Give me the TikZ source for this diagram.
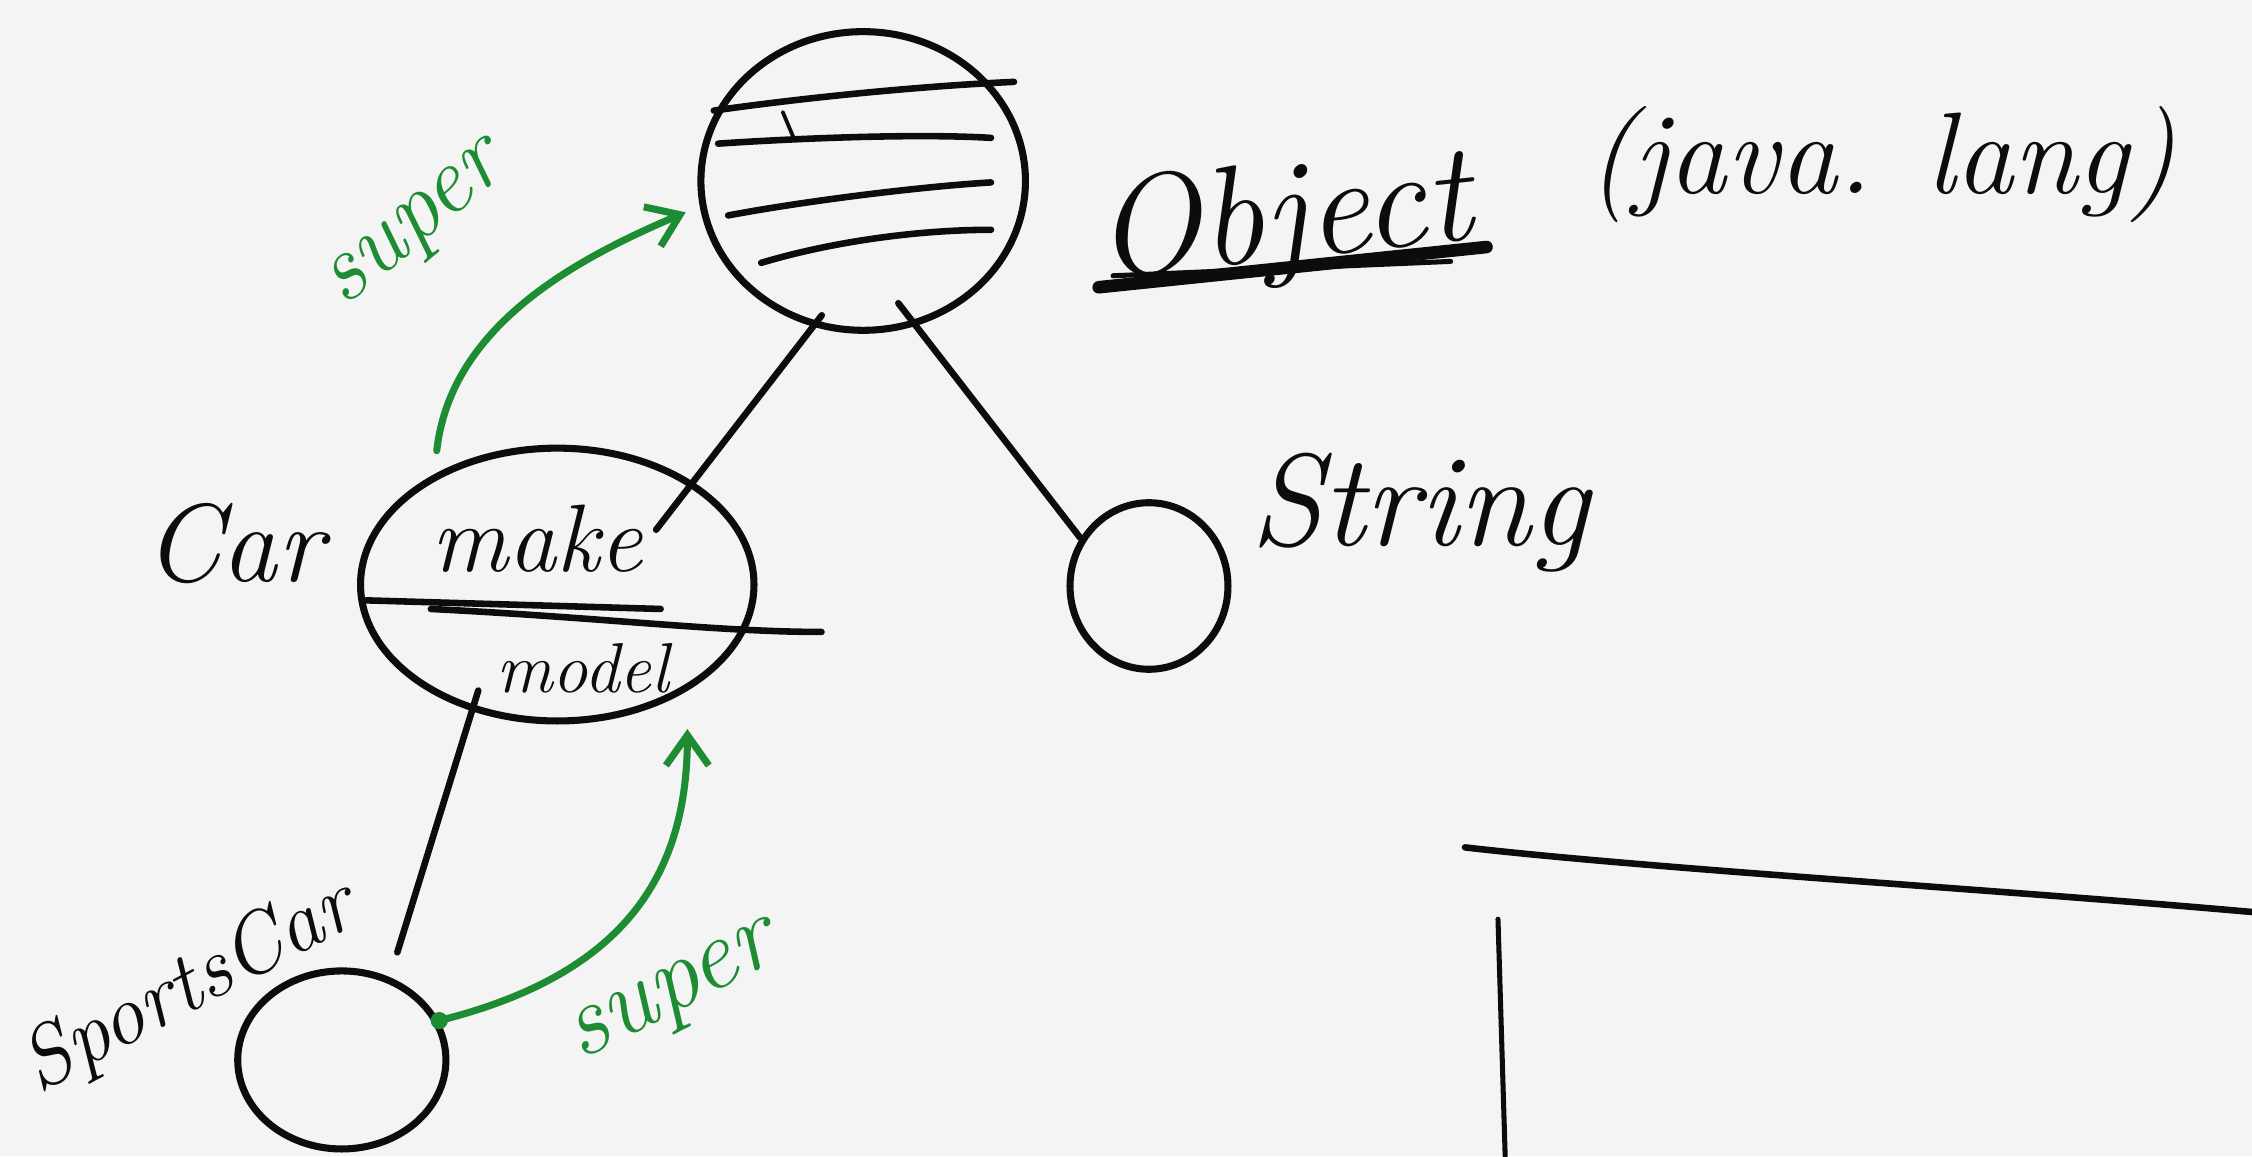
\documentclass[tikz,border=0pt]{standalone}
\usepackage{fontspec}
\usetikzlibrary{arrows.meta,shapes.geometric,calc}
\definecolor{bg}{RGB}{244,244,244}
\definecolor{pen}{RGB}{12,12,12}
\definecolor{gpen}{RGB}{30,140,50}
\begin{document}
\begin{tikzpicture}[x=0.02cm,y=-0.02cm,
  blob/.style={ellipse,draw=pen,line width=2.8pt,inner sep=0pt},
  conn/.style={draw=pen,line width=2.6pt,line cap=round},
  sup/.style={draw=gpen,line width=2.8pt,line cap=round,
    -{Straight Barb[length=12pt,width=17pt,line width=2.8pt]}},
  hand/.style={text=pen,inner sep=0pt,font=\fontsize{50}{50}\selectfont\itshape},
  ghand/.style={text=gpen,inner sep=0pt,font=\fontsize{38}{38}\selectfont\itshape}]
\fill[bg] (0,0) rectangle (1568,805);
\useasboundingbox (0,0) rectangle (1568,805);

% nodes
\node[blob,minimum width=4.52cm,minimum height=4.16cm] (obj) at (601,126) {};
\node[blob,minimum width=5.48cm,minimum height=3.8cm] (car) at (388,407) {};
\node[blob,minimum width=2.2cm,minimum height=2.32cm] (str) at (800,408) {};
\node[blob,minimum width=2.9cm,minimum height=2.48cm] (sc) at (238,738) {};

% strokes inside Object
\draw[conn] (497,77) .. controls (560,68) and (640,60) .. (706,57);
\draw[conn,line width=1.5pt] (545,78) -- (553,97);
\draw[conn] (500,100) .. controls (560,96) and (640,93) .. (690,96);
\draw[conn] (507,150) .. controls (560,140) and (640,130) .. (690,127);
\draw[conn] (530,183) .. controls (580,168) and (640,160) .. (690,160);

% divider in Car
\draw[conn] (255,418) -- (460,424);
\draw[conn] (300,424) .. controls (420,430) and (500,440) .. (572,440);

% labels
\node[hand,anchor=base west,rotate=6,font=\fontsize{56}{56}\selectfont\itshape] (objt) at (765,194) {Object};
\draw[pen,line width=5pt,line cap=round] (765,200) -- (1035,172);
\draw[pen,line width=2pt,line cap=round] (775,192) -- (1010,182);
\node[hand,anchor=base west,font=\fontsize{46}{46}\selectfont\itshape] (pkg) at (1105,135) {(java. lang)};
\node[hand,anchor=base west,font=\fontsize{44}{44}\selectfont\itshape] (cart) at (100,405) {Car};
\node[hand,anchor=base west,font=\fontsize{38}{38}\selectfont\itshape] (make) at (300,398) {make};
\node[hand,anchor=base west,font=\fontsize{28}{28}\selectfont\itshape] (model) at (345,482) {model};
\node[hand,anchor=base west,font=\fontsize{52}{52}\selectfont\itshape] (strt) at (870,380) {String};
\node[hand,rotate=28,font=\fontsize{34}{34}\selectfont\itshape] (sct) at (132,688) {SportsCar};
\node[ghand,rotate=40] (sup1) at (292,160) {super};
\node[ghand,rotate=27,font=\fontsize{40}{40}\selectfont\itshape] (sup2) at (470,695) {super};

% black connectors
\draw[conn,shorten <=-0.2cm] (obj.251) -- ($(car.center)!0.63!(car.29)$);
\draw[conn,shorten <=-0.4cm] (obj.290) -- (str.145);
\draw[conn,shorten <=-0.3cm,shorten >=0.36cm] (car.236) -- (sc.60);

% green super arrows
\fill[gpen] (sc.22) circle (6);
\draw[sup] (sc.22) .. controls +(120,-30) and +(0,110) .. ($(car.center)!1.22!(car.312)$);
\draw[sup] ($(car.center)!1.13!(car.132)$) .. controls +(10,-90) and +(-70,30) .. ($(obj.center)!1.09!(obj.190)$);

% partial lines bottom right
\draw[conn] (1020,590) .. controls (1150,605) and (1400,620) .. (1568,635);
\draw[conn,line width=2pt] (1043,640) -- (1048,805);
\end{tikzpicture}
\end{document}
